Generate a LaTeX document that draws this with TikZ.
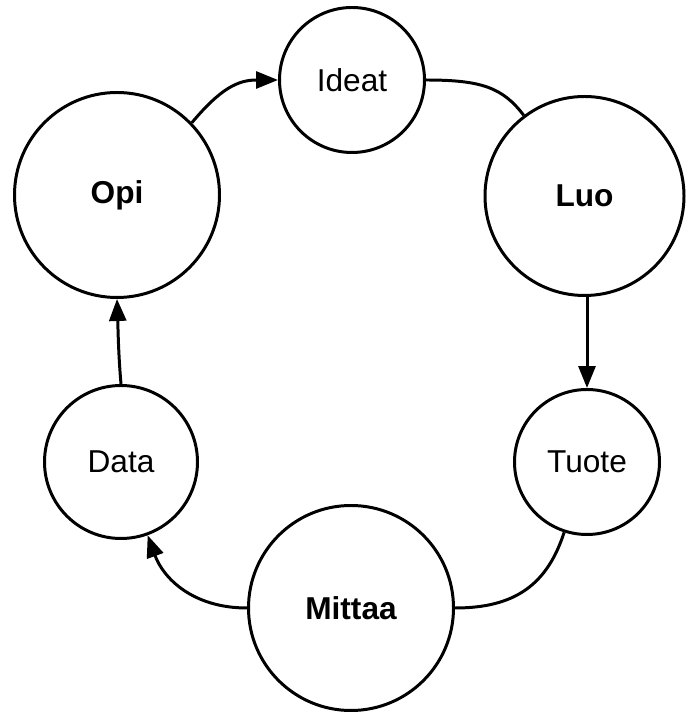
\documentclass[tikz,border=0pt]{standalone}
\usepackage{fontspec}
\setmainfont{Liberation Sans}
\usetikzlibrary{arrows.meta}
\tikzset{stage/.style={draw, circle, line width=1.7pt, inner sep=0pt,
        font=\fontsize{18}{20}\selectfont},
    small stage/.style={stage, minimum size=2.9cm},
    big stage/.style={stage, minimum size=4.1cm, font=\fontsize{18}{20}\selectfont\bfseries},
    flow/.style={line width=1.7pt},
    }

\begin{document}
\begin{tikzpicture}[>={Triangle[length=0.44cm, width=0.34cm]}]
	\useasboundingbox (0,0) rectangle (13.7,14.26);
	\node[small stage] (ideat) at (7.04,12.66) {Ideat};
	\node[big stage] (opi) at (2.34,10.36) {Opi};
	\node[big stage, minimum size=3.98cm] (luo) at (11.69,10.34) {Luo};
	\node[small stage] (tuote) at (11.74,5.02) {Tuote};
	\node[small stage, minimum size=3.06cm] (data) at (2.42,5.02) {Data};
	\node[big stage] (mittaa) at (7.02,2.10) {Mittaa};
	% kierros
	\draw[flow, ->] (opi.44)..controls +(50:0.9) and +(180:0.8)..(ideat.west);
	\draw[flow] (ideat.east)..controls +(0:1.1) and +(127:0.7)..(luo.127);
	\draw[flow, ->] (tuote.north |- luo.south) -- (tuote.north);
	\draw[flow] (tuote.-108)..controls +(-108:1.1) and +(0:1.2)..(mittaa.east);
	\draw[flow, ->] (mittaa.west)..controls +(180:1.1) and +(-70:0.9)..(data.-70);
	\draw[flow, ->] (data.north)..controls +(95:0.6) and +(-88:0.6)..(opi.south);
\end{tikzpicture}
\end{document}
